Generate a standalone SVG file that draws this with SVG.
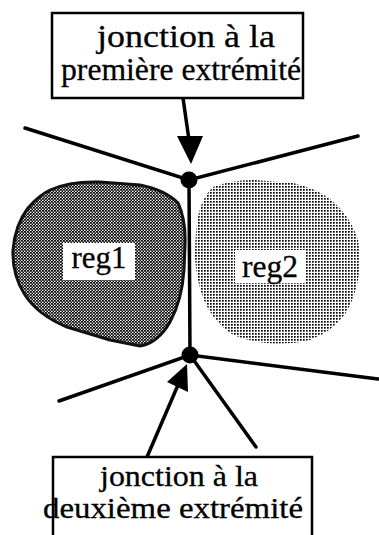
<svg xmlns="http://www.w3.org/2000/svg" width="379" height="535" viewBox="0 0 379 535">
<style>
.t{font-family:"Liberation Serif","Times New Roman",serif;font-size:31px;fill:#000;stroke:#000;stroke-width:0.3}
.s{font-size:29px}
.box{fill:#fff;stroke:#000;stroke-width:2.5}
.edge{stroke:#000;stroke-width:3.5;fill:none;stroke-linecap:round}
.lab{fill:#fff}
</style>
<defs>
<pattern id="dark" width="3" height="3" patternUnits="userSpaceOnUse">
<rect width="3" height="3" fill="#fff"/>
<rect x="0" y="0" width="1.7" height="1.7" fill="#000"/>
<rect x="1.5" y="1.5" width="1.7" height="1.7" fill="#000"/>
<rect x="1.5" y="0" width="0.7" height="1.5" fill="#000"/>
</pattern>
<pattern id="light" width="3" height="3" patternUnits="userSpaceOnUse">
<rect width="3" height="3" fill="#fff"/>
<rect x="0" y="0" width="1.7" height="1.7" fill="#000"/>
</pattern>
</defs>
<g id="reg1">
<path d="M50,190 Q70,181 100,182 L140,185 Q165,190 178,203 Q186,220 185,245 L184,270 Q182,300 170,322 Q158,343 140,346 L110,340 L67,327 Q38,315 25,295 Q12,275 13,250 Q15,225 28,208 Q38,196 50,190 Z" fill="url(#dark)" stroke="#111" stroke-width="3" stroke-linejoin="round"/>
<rect class="lab" x="63" y="243" width="72" height="37"/>
<text class="t" x="99" y="268" text-anchor="middle" textLength="55" lengthAdjust="spacingAndGlyphs">reg1</text>
</g>
<g id="reg2">
<path d="M213,187 Q232,180 253,180 L293,183 Q315,188 330,199 Q350,215 358,240 Q362,262 358,280 Q354,300 345,314 Q332,332 310,340 Q290,345 267,343 Q245,341 230,333 Q212,320 204,300 Q196,280 195,257 Q195,230 199,212 Q204,195 213,187 Z" fill="url(#light)"/>
<rect class="lab" x="235" y="250" width="70" height="33"/>
<text class="t" x="270" y="277" text-anchor="middle" textLength="56" lengthAdjust="spacingAndGlyphs">reg2</text>
</g>
<g id="connectors">
<path class="edge" d="M25,128 L189,180 L358,136"/>
<path class="edge" d="M189,180 L190,355"/>
<path class="edge" d="M59,401 L190,355 L378,379"/>
<path class="edge" d="M190,355 L256,447"/>
<path class="edge" d="M183,98 L189,140" stroke-width="3"/>
<polygon points="177,136 203,136 191,164" fill="#000"/>
<path class="edge" d="M147,457 L178,385" stroke-width="3"/>
<polygon points="167,382 188,392 187,364" fill="#000"/>
</g>
<g id="j1">
<circle cx="189" cy="180" r="8.5" fill="#000"/>
</g>
<g id="j2">
<circle cx="190" cy="355" r="8.5" fill="#000"/>
</g>
<g id="label1">
<rect class="box" x="52" y="13" width="251" height="85"/>
<text class="t" x="186" y="47" text-anchor="middle" textLength="178" lengthAdjust="spacingAndGlyphs">jonction  à la</text>
<text class="t" x="181" y="80" text-anchor="middle" textLength="240" lengthAdjust="spacingAndGlyphs">première extrémité</text>
</g>
<g id="label2">
<rect class="box" x="53" y="457" width="259" height="90"/>
<text class="t s" x="179" y="486" text-anchor="middle" textLength="158" lengthAdjust="spacingAndGlyphs">jonction  à la</text>
<text class="t s" x="173" y="518" text-anchor="middle" textLength="260" lengthAdjust="spacingAndGlyphs">deuxième extrémité</text>
</g>
</svg>
